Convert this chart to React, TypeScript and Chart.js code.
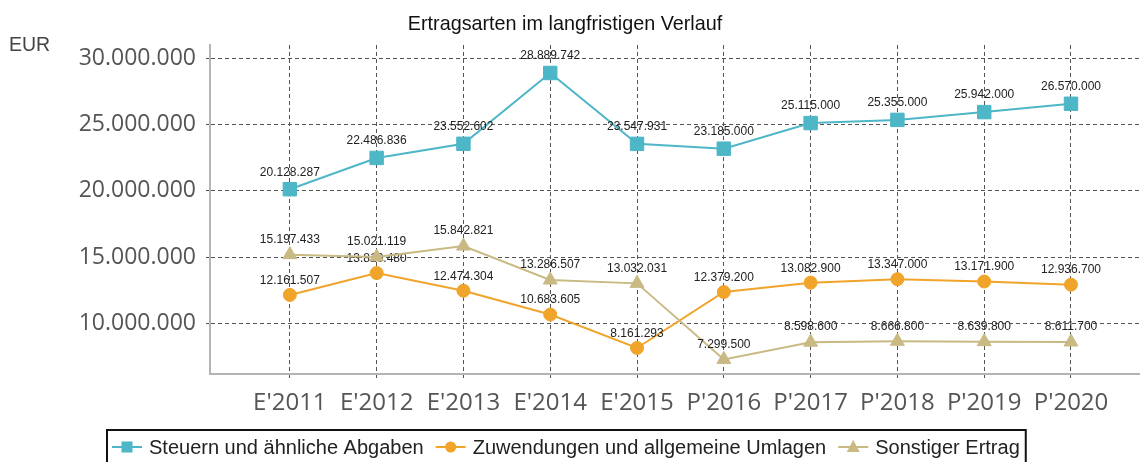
import React, { useEffect, useRef } from "react";
import { Chart, registerables } from "chart.js";

Chart.register(...registerables);

const categories = ["E'2011", "E'2012", "E'2013", "E'2014", "E'2015", "P'2016", "P'2017", "P'2018", "P'2019", "P'2020"];
const steuern = [20128287, 22486836, 23552602, 28889742, 23547931, 23185000, 25115000, 25355000, 25942000, 26570000];
const zuwendungen = [12161507, 13810480, 12474304, 10683605, 8161293, 12379200, 13082900, 13347000, 13171900, 12936700];
const sonstiger = [15197433, 15021119, 15842821, 13286507, 13032031, 7299500, 8598600, 8666800, 8639800, 8611700];
const seriesNames = ["Steuern und ähnliche Abgaben", "Zuwendungen und allgemeine Umlagen", "Sonstiger Ertrag"];
const yTicks = [10000000, 15000000, 20000000, 25000000, 30000000];
const titleText = "Ertragsarten im langfristigen Verlauf";
const unitText = "EUR";

const colors = ["#4db6c7", "#f0a42a", "#c9b983"];
const pointStyles = ["rect", "circle", "triangle"];
const pointRadii = [9.5, 6.5, 8];
const labelOffsets = [17, 14.5, 15];

function fmt(v: number): string {
  return Math.round(v).toString().replace(/\B(?=(\d{3})+(?!\d))/g, ".");
}

const AXIS_FONT = "'Open Sans', 'Noto Sans', sans-serif";
const ARIAL = "'Liberation Sans', Arial, sans-serif";

const decorPlugin = {
  id: "decor",
  afterDatasetDraw(chart: any, args: any) {
    const i = args.index;
    const ds = chart.data.datasets[i];
    const meta = args.meta;
    const ctx = chart.ctx;
    ctx.save();
    ctx.font = `12px ${ARIAL}`;
    ctx.fillStyle = "#222";
    ctx.textAlign = "center";
    ctx.textBaseline = "middle";
    meta.data.forEach((pt: any, j: number) => {
      ctx.fillText(fmt(ds.data[j].y), pt.x, pt.y - labelOffsets[i]);
    });
    ctx.restore();
  },
  afterDraw(chart: any) {
    const ctx = chart.ctx;
    ctx.save();
    // title
    ctx.font = `19.8px ${ARIAL}`;
    ctx.fillStyle = "#111";
    ctx.textAlign = "center";
    ctx.textBaseline = "alphabetic";
    ctx.fillText(titleText, 565, 30);
    // unit
    ctx.font = `19.5px ${ARIAL}`;
    ctx.fillStyle = "#444";
    ctx.textAlign = "left";
    ctx.fillText(unitText, 9, 51);
    // legend
    const lx = 107;
    const ly = 430;
    const cy = 447;
    ctx.font = `20px ${ARIAL}`;
    ctx.textBaseline = "middle";
    let x = lx + 5;
    seriesNames.forEach((name, i) => {
      const c = colors[i];
      ctx.strokeStyle = c;
      ctx.lineWidth = 2;
      ctx.beginPath();
      ctx.moveTo(x, cy);
      ctx.lineTo(x + 30, cy);
      ctx.stroke();
      ctx.fillStyle = c;
      const mx = x + 15;
      if (i === 0) {
        ctx.fillRect(mx - 5.5, cy - 5.5, 11, 11);
      } else if (i === 1) {
        ctx.beginPath();
        ctx.arc(mx, cy, 5.5, 0, Math.PI * 2);
        ctx.fill();
      } else {
        ctx.beginPath();
        ctx.moveTo(mx, cy - 7);
        ctx.lineTo(mx + 6.5, cy + 5);
        ctx.lineTo(mx - 6.5, cy + 5);
        ctx.closePath();
        ctx.fill();
      }
      ctx.fillStyle = "#222";
      ctx.fillText(name, x + 37, cy + 1);
      x += 37 + ctx.measureText(name).width + 12;
    });
    const rx = x - 12 + 6;
    ctx.strokeStyle = "#111";
    ctx.lineWidth = 2;
    ctx.strokeRect(lx, ly, rx - lx, 50);
    ctx.restore();
  },
};

export default function App() {
  const ref = useRef<HTMLCanvasElement>(null);
  useEffect(() => {
    if (!ref.current) return;
    const datasets = [steuern, zuwendungen, sonstiger].map((arr, i) => ({
      label: seriesNames[i],
      data: arr.map((y, k) => ({ x: k, y })),
      borderColor: colors[i],
      backgroundColor: colors[i],
      borderWidth: 2,
      pointStyle: pointStyles[i],
      pointRadius: pointRadii[i],
      pointBorderWidth: 1,
      pointBorderColor: colors[i],
      pointBackgroundColor: colors[i],
      tension: 0,
      order: 2 - i,
      clip: false as any,
    }));
    const chart = new Chart(ref.current, {
      type: "line",
      data: { datasets },
      plugins: [decorPlugin as any],
      options: {
        animation: false,
        responsive: false,
        devicePixelRatio: 1,
        layout: { autoPadding: false, padding: { top: 45, bottom: 32, left: 0, right: 0 } },
        plugins: {
          legend: { display: false },
          title: { display: false },
          tooltip: { enabled: false },
        },
        scales: {
          x: {
            type: "linear",
            min: -0.92,
            max: 9.795,
            afterBuildTicks: (scale: any) => {
              scale.ticks = categories.map((_, i) => ({ value: i }));
            },
            afterFit: (scale: any) => {
              scale.height = 56;
            },
            ticks: {
              autoSkip: false,
              maxRotation: 0,
              font: { family: AXIS_FONT, size: 24 },
              color: "#555",
              padding: 11,
              callback: (v: any) => categories[Math.round(Number(v))] ?? "",
            },
            grid: { color: "#555", lineWidth: 1, tickLength: 4, drawTicks: true },
            border: { display: true, color: "#b4b4b4", width: 2, dash: [4, 3] },
          },
          y: {
            type: "linear",
            min: 6200000,
            max: 31000000,
            afterBuildTicks: (scale: any) => {
              scale.ticks = yTicks.map((v) => ({ value: v }));
            },
            afterFit: (scale: any) => {
              scale.width = 210;
            },
            ticks: {
              font: { family: AXIS_FONT, size: 23 },
              color: "#555",
              padding: 10,
              callback: (v: any) => fmt(Number(v)),
            },
            grid: { color: "#555", lineWidth: 1, tickLength: 4, drawTicks: true },
            border: { display: true, color: "#b4b4b4", width: 2, dash: [4, 3] },
          },
        },
      } as any,
    });
    return () => chart.destroy();
  }, []);
  return (
    <div style={{ position: "absolute", left: 0, top: 0, width: 1140, height: 462, background: "#fff" }}>
      <canvas ref={ref} width={1140} height={462} style={{ width: 1140, height: 462, display: "block" }} />
    </div>
  );
}
